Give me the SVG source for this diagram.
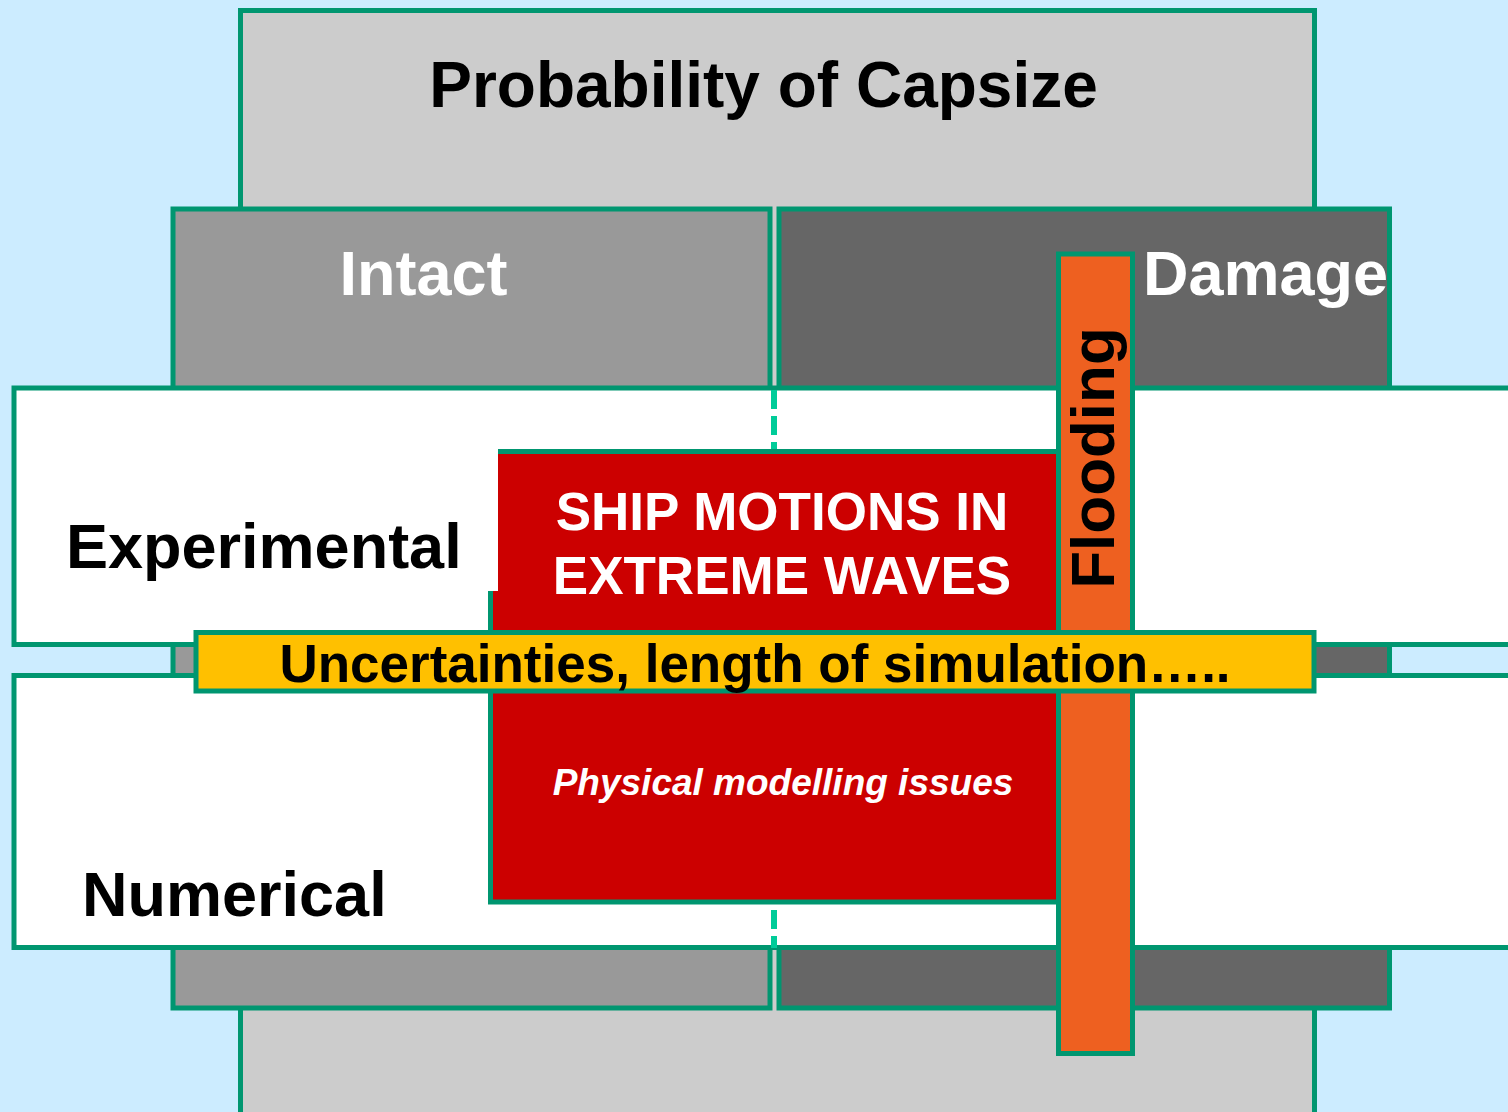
<svg xmlns="http://www.w3.org/2000/svg" width="1508" height="1112" viewBox="0 0 1508 1112">
  <style>
    .edge { stroke: #009670; stroke-width: 5; }
    .t { font-family: "Liberation Sans", Arial, sans-serif; font-weight: bold; }
    .big { font-size: 63px; }
    .mid { font-size: 53px; }
    .blk { fill: #000000; }
    .wht { fill: #FFFFFF; }
  </style>
  <rect x="0" y="0" width="1508" height="1112" fill="#CCECFF"/>

  <g id="node-capsize">
    <rect class="edge" x="240.5" y="10.5" width="1074" height="1120" fill="#CCCCCC"/>
    <text class="t blk" font-size="64" x="763.5" y="107" text-anchor="middle">Probability of Capsize</text>
  </g>

  <g id="node-intact">
    <rect class="edge" x="173" y="209" width="597" height="799" fill="#999999"/>
    <text class="t big wht" x="423.5" y="295" text-anchor="middle">Intact</text>
  </g>

  <g id="node-damage">
    <rect class="edge" x="779" y="209" width="610.5" height="799" fill="#666666"/>
  </g>

  <g id="node-experimental">
    <rect class="edge" x="14" y="388" width="1510" height="256.5" fill="#FFFFFF"/>
    <text class="t big blk" x="66" y="568">Experimental</text>
  </g>

  <g id="node-numerical">
    <rect class="edge" x="14" y="675.5" width="1510" height="272" fill="#FFFFFF"/>
    <text class="t big blk" x="82" y="916">Numerical</text>
  </g>

  <g id="connectors">
    <line x1="774" y1="390" x2="774" y2="948" stroke="#00CC99" stroke-width="6" stroke-dasharray="19 7"/>
  </g>

  <g id="node-physical">
    <rect x="490" y="591" width="568" height="311" fill="#CC0000"/>
    <path class="edge" fill="none" d="M490.5 591 V902 H1058"/>
    <text class="t wht" x="783" y="795" text-anchor="middle" font-size="37" font-style="italic">Physical modelling issues</text>
  </g>

  <g id="node-ship-motions">
    <rect x="498" y="451" width="560" height="182" fill="#CC0000"/>
    <line class="edge" x1="498" y1="451.5" x2="1058" y2="451.5"/>
    <text class="t mid wht" x="782" y="530" text-anchor="middle">SHIP MOTIONS IN</text>
    <text class="t mid wht" x="782" y="594" text-anchor="middle">EXTREME WAVES</text>
  </g>

  <g id="node-flooding">
    <rect class="edge" x="1058.5" y="254" width="74" height="799.5" fill="#EE6020"/>
    <text class="t blk" font-size="62" transform="translate(1114,458) rotate(-90)" text-anchor="middle">Flooding</text>
  </g>

  <g id="node-damage-label">
    <text class="t big wht" x="1143" y="295">Damage</text>
  </g>

  <g id="node-uncertainties">
    <rect class="edge" x="196" y="632.5" width="1118" height="58.5" fill="#FFC000"/>
    <text class="t mid blk" x="755" y="682" text-anchor="middle">Uncertainties, length of simulation…..</text>
  </g>
</svg>
